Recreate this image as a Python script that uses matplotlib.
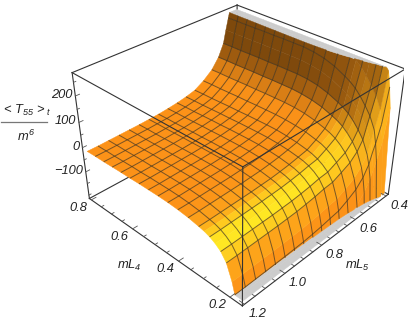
import numpy as np
import matplotlib
matplotlib.use("Agg")
import matplotlib.pyplot as plt
from matplotlib.lines import Line2D
from mpl_toolkits.mplot3d import proj3d
from mpl_toolkits.mplot3d.art3d import Poly3DCollection, Line3DCollection

plt.rcParams['font.family'] = 'Liberation Sans'
plt.rcParams['mathtext.fontset'] = 'custom'
plt.rcParams['mathtext.it'] = 'Liberation Sans:italic'
plt.rcParams['mathtext.rm'] = 'Liberation Sans:italic'

# Values, rows = mL4, columns = mL5
mL4 = [0.80, 0.76, 0.72, 0.68, 0.64, 0.60, 0.56, 0.52, 0.48, 0.44, 0.40, 0.36, 0.32, 0.30, 0.28, 0.26, 0.24, 0.22, 0.20, 0.19, 0.18, 0.16]
mL5 = [1.20, 1.15, 1.10, 1.05, 1.00, 0.95, 0.90, 0.85, 0.80, 0.75, 0.70, 0.65, 0.60, 0.55, 0.51, 0.48, 0.465, 0.45, 0.425, 0.40]
T55 = [
    [-14, -14, -13, -12, -11, -10, -8, -6, -2, 3, 10, 20, 42, 72, 112, 160, 210, 255, 330, 420],
    [-13, -13, -12, -11, -10, -9, -7, -5, -1, 4, 11, 21, 43, 73, 113, 161, 211, 256, 331, 421],
    [-13, -13, -12, -11, -10, -9, -7, -5, -1, 4, 11, 21, 43, 73, 113, 161, 211, 256, 331, 421],
    [-12, -12, -11, -10, -9, -8, -6, -4, 0, 5, 12, 22, 44, 74, 114, 162, 212, 257, 332, 422],
    [-11, -11, -10, -9, -8, -7, -5, -3, 1, 6, 13, 23, 45, 75, 115, 163, 213, 258, 333, 423],
    [-11, -11, -10, -9, -8, -7, -5, -3, 1, 6, 13, 23, 45, 75, 115, 163, 213, 258, 333, 423],
    [-10, -10, -9, -8, -7, -6, -4, -2, 2, 7, 14, 24, 46, 76, 116, 164, 214, 259, 334, 424],
    [-10, -10, -9, -8, -7, -6, -4, -2, 2, 7, 14, 24, 46, 76, 116, 164, 214, 259, 334, 424],
    [-10, -10, -9, -8, -7, -6, -4, -2, 2, 7, 14, 24, 46, 76, 116, 164, 214, 259, 334, 424],
    [-11, -11, -10, -9, -8, -7, -5, -3, 1, 6, 13, 23, 44, 74, 113, 161, 210, 255, 330, 419],
    [-14, -14, -13, -12, -11, -10, -8, -6, -2, 3, 10, 19, 40, 69, 107, 154, 203, 247, 321, 410],
    [-19, -19, -18, -17, -16, -15, -13, -11, -7, -2, 5, 13, 34, 60, 97, 141, 190, 233, 306, 395],
    [-27, -27, -26, -25, -24, -23, -21, -19, -15, -10, -3, 4, 23, 47, 81, 123, 170, 212, 284, 371],
    [-32, -32, -31, -30, -29, -28, -26, -24, -20, -15, -8, -2, 17, 39, 72, 112, 159, 200, 271, 358],
    [-40, -40, -39, -38, -37, -36, -34, -32, -28, -23, -16, -11, 7, 28, 59, 98, 143, 184, 254, 340],
    [-52, -52, -51, -50, -49, -48, -46, -44, -40, -35, -28, -24, -7, 12, 41, 78, 122, 162, 231, 325],
    [-69, -69, -68, -67, -66, -65, -63, -61, -57, -52, -45, -42, -26, -9, 18, 53, 96, 135, 203, 305],
    [-99, -99, -98, -97, -96, -95, -93, -91, -87, -82, -75, -72, -56, -39, -12, 23, 66, 105, 173, 290],
    [-159, -159, -158, -157, -156, -155, -153, -151, -147, -142, -135, -130, -113, -93, -63, -25, 20, 60, 130, 265],
    [-204, -204, -203, -202, -201, -200, -198, -196, -192, -187, -180, -174, -156, -134, -102, -62, -21, 10, 76, 210],
    [-274, -274, -273, -272, -271, -270, -268, -266, -262, -257, -250, -242, -222, -196, -160, -116, -88, -55, 8, 136],
    [-494, -494, -493, -492, -491, -490, -488, -486, -482, -477, -470, -460, -438, -408, -368, -320, -290, -255, -190, -260],
]
# which rows and columns of the table carry a mesh line
mesh_L4 = [0.76, 0.72, 0.68, 0.64, 0.60, 0.56, 0.52, 0.48, 0.44, 0.40, 0.36, 0.32, 0.28, 0.24, 0.22, 0.19]
mesh_L5 = [1.15, 1.10, 1.05, 1.00, 0.95, 0.90, 0.85, 0.80, 0.75, 0.70, 0.65, 0.60, 0.55, 0.51, 0.48, 0.45]
x_ticks = [0.2, 0.4, 0.6, 0.8]
y_ticks = [0.4, 0.6, 0.8, 1.0, 1.2]
z_ticks = [-100, 0, 100, 200]

XLIM = (0.155, 0.81)
YLIM = (0.385, 1.21)
ZLIM = (-215, 285)
ZCLIP = (-205, 275)
ASPECT = (1.49, 1.50, 1.0)

W, H = 409, 327
fig = plt.figure(figsize=(W / 100, H / 100), dpi=100)
size = 338.45
ax = fig.add_axes([65.62 / W, 16.22 / H, size / W, size / H], projection='3d', computed_zorder=False)
ax.set_xlim(*XLIM, view_margin=0)
ax.set_ylim(*YLIM, view_margin=0)
ax.set_zlim(*ZLIM, view_margin=0)
ax.view_init(elev=32.884, azim=133.863)
ax.set_proj_type('persp', focal_length=0.408)
ax.set_box_aspect(ASPECT)
ax.set_axis_off()
ax.patch.set_alpha(0)


def clip_poly(poly, level, keep_below):
    """Cut a polygon with a z plane."""
    out = []
    for i in range(len(poly)):
        a, b = poly[i], poly[(i + 1) % len(poly)]
        ina = a[2] <= level if keep_below else a[2] >= level
        inb = b[2] <= level if keep_below else b[2] >= level
        if ina:
            out.append(a)
        if ina != inb:
            t = (level - a[2]) / (b[2] - a[2])
            out.append(a + t * (b - a))
    return out


def clip_seg(a, b):
    """Keep the part of a mesh segment that lies inside the clip range."""
    lo, hi = ZCLIP
    if (a[2] > hi and b[2] > hi) or (a[2] < lo and b[2] < lo):
        return None
    pts = []
    for p, q in ((a, b), (b, a)):
        if p[2] > hi:
            p = p + (hi - p[2]) / (q[2] - p[2]) * (q - p)
        elif p[2] < lo:
            p = p + (lo - p[2]) / (q[2] - p[2]) * (q - p)
        pts.append(p)
    return pts


xs, ys = np.array(mL4), np.array(mL5)
zs = np.array(T55, float)

# shading, from the normals in box units
bx = xs / (XLIM[1] - XLIM[0]) * ASPECT[0]
by = ys / (YLIM[1] - YLIM[0]) * ASPECT[1]
bz = zs / (ZLIM[1] - ZLIM[0]) * ASPECT[2]
fx, fy = np.gradient(bz, bx, by)
norm = np.sqrt(fx ** 2 + fy ** 2 + 1)
nx, ny = -fx / norm, -fy / norm
a = np.clip(-nx, 0, 1)
b = np.clip(ny, 0, 1)
yellow = np.clip((a - 0.12) / 0.33, 0, 1) * np.clip((0.97 - a) / 0.2, 0, 1) * (1 - 0.8 * b)
dark = 1 - 0.5 * np.clip((b - 0.62) / 0.33, 0, 1) ** 1.5 * (1 - a)
vert_rgb = np.dstack([(252 + 3 * yellow) * dark, (146 + 86 * yellow) * dark, (24 + 11 * yellow) * dark]) / 255

faces, colors, mesh = [], [], []
grey = (0.8, 0.8, 0.8)
for i in range(len(xs) - 1):
    for j in range(len(ys) - 1):
        p = [np.array([xs[r], ys[c], zs[r, c]]) for r, c in ((i, j), (i + 1, j), (i + 1, j + 1), (i, j + 1))]
        col = (vert_rgb[i, j] + vert_rgb[i + 1, j] + vert_rgb[i + 1, j + 1] + vert_rgb[i, j + 1]) / 4
        mid = clip_poly(p, ZCLIP[1], True)
        if mid:
            mid = clip_poly(mid, ZCLIP[0], False)
        if len(mid) > 2:
            faces.append(mid)
            colors.append(col)
        for level, below in ((ZCLIP[1], False), (ZCLIP[0], True)):
            part = clip_poly(p, level, below)
            if len(part) > 2:
                faces.append([np.array([q[0], q[1], level]) for q in part])
                colors.append(grey)
        if min(abs(xs[i] - v) for v in mesh_L4) < 1e-6:
            seg = clip_seg(p[0], p[3])
            if seg:
                mesh.append(seg)
        if min(abs(ys[j] - v) for v in mesh_L5) < 1e-6:
            seg = clip_seg(p[0], p[1])
            if seg:
                mesh.append(seg)

xa, xb = XLIM
ya, yb = YLIM
za, zb = ZLIM
box_line = dict(color='#333333', lw=0.8)
for (p, q) in (((xb, yb, zb), (xb, ya, zb)), ((xb, ya, zb), (xa, ya, zb)), ((xb, yb, za), (xb, ya, za)),
               ((xb, ya, za), (xa, ya, za)), ((xb, ya, za), (xb, ya, zb))):
    ax.plot(*zip(p, q), zorder=1, **box_line)

surf = Poly3DCollection(faces, facecolors=colors, edgecolors=colors, linewidths=0.3, zorder=2)
ax.add_collection3d(surf)
ax.add_collection3d(Line3DCollection(mesh, colors=[(0.25, 0.2, 0.12, 0.7)], linewidths=0.7, zorder=3))

for (p, q) in (((xa, yb, za), (xa, yb, zb)), ((xa, yb, zb), (xb, yb, zb)), ((xa, yb, zb), (xa, ya, zb)),
               ((xa, yb, za), (xb, yb, za)), ((xa, yb, za), (xa, ya, za)), ((xb, yb, za), (xb, yb, zb)),
               ((xa, ya, za), (xa, ya, zb))):
    ax.plot(*zip(p, q), zorder=4, **box_line)

tick_line = dict(color='#555555', lw=0.6, zorder=4)
for t in np.arange(0.2, 0.81, 0.05):
    ln = 0.022 if min(abs(t - v) for v in x_ticks) < 1e-6 else 0.012
    ax.plot([t, t], [yb, yb - ln], [za, za], **tick_line)
for t in np.arange(0.4, 1.21, 0.05):
    ln = 0.018 if min(abs(t - v) for v in y_ticks) < 1e-6 else 0.010
    ax.plot([xa, xa + ln], [t, t], [za, za], **tick_line)
for t in np.arange(-200, 251, 50):
    ln = 0.018 if t in z_ticks else 0.010
    ax.plot([xb, xb], [yb, yb - ln], [t, t], **tick_line)


def label_at(point, text, dx, dy, ha='center'):
    X, Y, _ = proj3d.proj_transform(*point, ax.get_proj())
    ax.annotate(text, (X, Y), xytext=(dx * 0.72, dy * 0.72), textcoords='offset points', ha=ha, va='center',
                fontsize=9.3, style='italic', color='#222222', zorder=5)


for t in x_ticks:
    label_at((t, yb, za), f'{t:.1f}', -13, -8)
for t in y_ticks:
    label_at((xa, t, za), f'{t:.1f}', 13, -10)
for t in z_ticks:
    label_at((xb, yb, t), f'{t}'.replace('-', '\u2212'), -3, 1, ha='right')

fig.text(129 / W, 1 - 265 / H, r'$mL_4$', fontsize=9.3, ha='center', va='center', color='#222222')
fig.text(357 / W, 1 - 265 / H, r'$mL_5$', fontsize=9.3, ha='center', va='center', color='#222222')
fig.text(26 / W, 1 - 110 / H, r'$<\,T_{55}\,>_t$', fontsize=9.3, ha='center', va='center', color='#222222')
fig.text(26 / W, 1 - 136 / H, r'$m^6$', fontsize=9.3, ha='center', va='center', color='#222222')
fig.add_artist(Line2D([1 / W, 47 / W], [1 - 122 / H, 1 - 122 / H], color='#777777', lw=0.9))

fig.savefig('out.png', dpi=100)
